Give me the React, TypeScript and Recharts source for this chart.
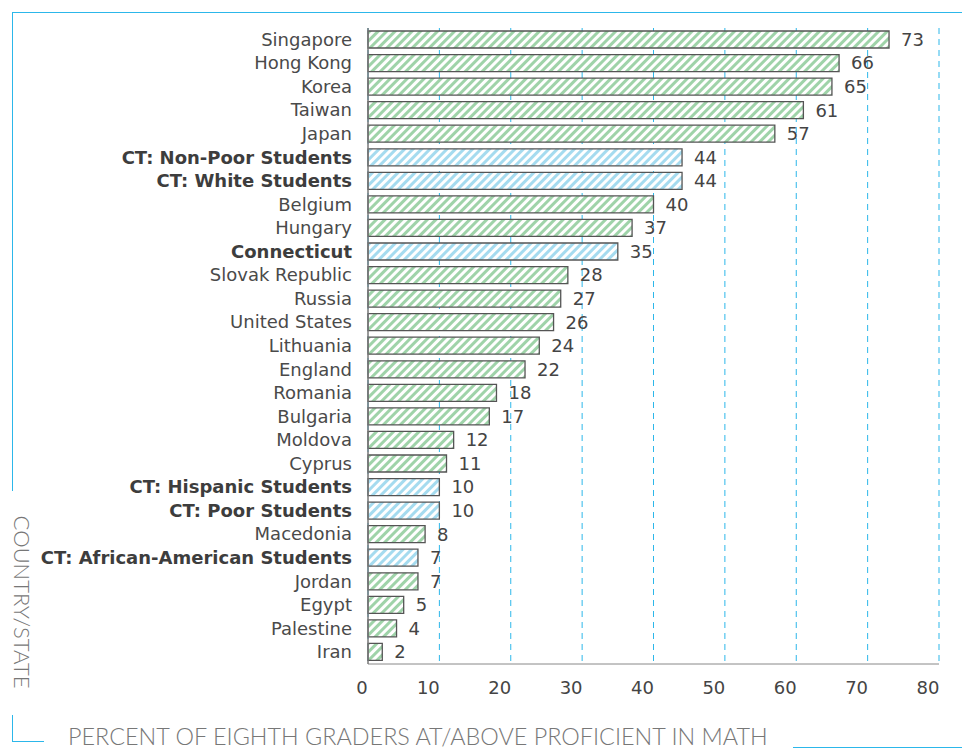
import { BarChart, Bar, XAxis, YAxis, CartesianGrid, Cell, LabelList } from 'recharts';

const countries = [
  'Singapore', 'Hong Kong', 'Korea', 'Taiwan', 'Japan',
  'CT: Non-Poor Students', 'CT: White Students', 'Belgium', 'Hungary', 'Connecticut',
  'Slovak Republic', 'Russia', 'United States', 'Lithuania', 'England',
  'Romania', 'Bulgaria', 'Moldova', 'Cyprus', 'CT: Hispanic Students',
  'CT: Poor Students', 'Macedonia', 'CT: African-American Students', 'Jordan', 'Egypt',
  'Palestine', 'Iran',
];
const proficient = [73, 66, 65, 61, 57, 44, 44, 40, 37, 35, 28, 27, 26, 24, 22, 18, 17, 12, 11, 10, 10, 8, 7, 7, 5, 4, 2];
const connecticutRows = [
  'CT: Non-Poor Students', 'CT: White Students', 'Connecticut',
  'CT: Hispanic Students', 'CT: Poor Students', 'CT: African-American Students',
];
const xTicks = [0, 10, 20, 30, 40, 50, 60, 70, 80];

const rows = countries.map((name, i) => ({ name, value: proficient[i], ct: connecticutRows.includes(name) }));

const FONT = '"DejaVu Sans", sans-serif';
const THIN = 'Lato, "DejaVu Sans", sans-serif';
const BLUE = '#2cb7ea';

function CountryTick({ x, y, payload }: any) {
  const bold = connecticutRows.includes(payload.value);
  return (
    <text x={x} y={y} dy={6} textAnchor="end" fill={bold ? '#3d3d3d' : '#4a4a4a'}
      fontFamily={FONT} fontSize={18} fontWeight={bold ? 700 : 400}>
      {payload.value}
    </text>
  );
}

function PercentTick({ x, y, payload }: any) {
  // printed labels sit a little left of their gridlines
  const shift = payload.value === 0 ? -6 : -11;
  return (
    <text x={x + shift} y={y} dy={13} textAnchor="middle" fill="#444" fontFamily={FONT} fontSize={18}>
      {payload.value}
    </text>
  );
}

export default function App() {
  return (
    <div style={{ position: 'absolute', left: 0, top: 0, width: 962, height: 749, background: '#fff' }}>
      <BarChart width={962} height={749} data={rows} layout="vertical"
        margin={{ top: 28, right: 23, bottom: 55, left: 0 }} barSize={17}>
        <defs>
          <pattern id="hatchGreen" width="6" height="6" patternUnits="userSpaceOnUse" patternTransform="rotate(45)">
            <rect width="6" height="6" fill="#fff" />
            <rect width="3" height="6" fill="#9fd3a9" />
          </pattern>
          <pattern id="hatchBlue" width="6" height="6" patternUnits="userSpaceOnUse" patternTransform="rotate(45)">
            <rect width="6" height="6" fill="#fff" />
            <rect width="3" height="6" fill="#a5dbef" />
          </pattern>
        </defs>
        <CartesianGrid horizontal={false} stroke={BLUE} strokeDasharray="6 5" />
        <XAxis type="number" domain={[0, 80]} ticks={xTicks} height={30}
          axisLine={{ stroke: '#888' }} tickLine={false} tickMargin={11}
          tick={<PercentTick />} />
        <YAxis type="category" dataKey="name" width={368} interval={0}
          axisLine={{ stroke: '#777', strokeWidth: 1.5 }} tickLine={false} tickMargin={10}
          tick={<CountryTick />} />
        <Bar dataKey="value" stroke="#555" strokeWidth={1.3} isAnimationActive={false}>
          {rows.map((r) => (
            <Cell key={r.name} fill={r.ct ? 'url(#hatchBlue)' : 'url(#hatchGreen)'} />
          ))}
          <LabelList dataKey="value" position="right" offset={12} fill="#444" fontSize={18} fontFamily={FONT} />
        </Bar>
      </BarChart>

      {/* frame pieces */}
      <div style={{ position: 'absolute', left: 12, top: 12, width: 950, height: 0, borderTop: `1.5px solid ${BLUE}` }} />
      <div style={{ position: 'absolute', left: 12, top: 12, width: 0, height: 479, borderLeft: `1.5px solid ${BLUE}` }} />
      <div style={{ position: 'absolute', left: 12, top: 715, width: 31, height: 26, borderLeft: `1.5px solid ${BLUE}`, borderBottom: `1.5px solid ${BLUE}` }} />
      <div style={{ position: 'absolute', left: 793, top: 747, width: 169, height: 0, borderTop: `1.5px solid ${BLUE}` }} />

      <div style={{ position: 'absolute', left: 22, top: 602, transform: 'translate(-50%, -50%) rotate(90deg)', whiteSpace: 'nowrap',
        fontFamily: THIN, fontWeight: 300, fontSize: 22, color: '#777' }}>
        COUNTRY/STATE
      </div>
      <div style={{ position: 'absolute', left: 68, top: 724, whiteSpace: 'nowrap',
        fontFamily: THIN, fontWeight: 300, fontSize: 23.4, color: '#777', lineHeight: '24px' }}>
        PERCENT OF EIGHTH GRADERS AT/ABOVE PROFICIENT IN MATH
      </div>
    </div>
  );
}
